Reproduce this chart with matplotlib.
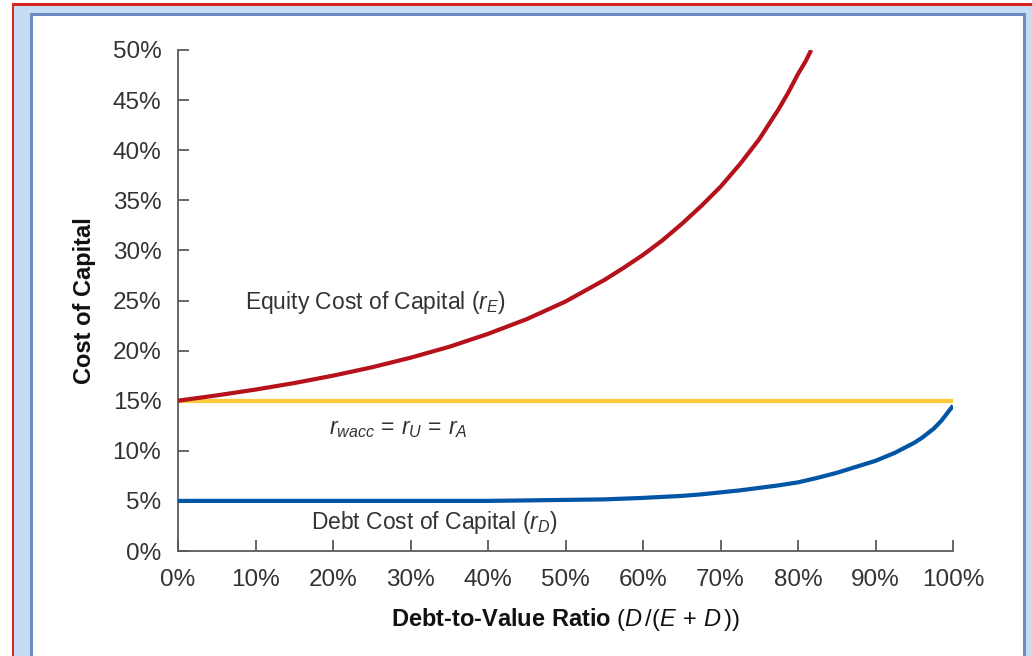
import numpy as np
import matplotlib
matplotlib.use("Agg")
import matplotlib.pyplot as plt
from matplotlib.patches import Rectangle

plt.rcParams['font.family'] = ['Liberation Sans', 'DejaVu Sans']
plt.rcParams['mathtext.fontset'] = 'custom'
plt.rcParams['mathtext.rm'] = 'Liberation Sans'
plt.rcParams['mathtext.it'] = 'Liberation Sans:italic'
plt.rcParams['mathtext.bf'] = 'Liberation Sans:bold'

# debt-to-value ratio (%) and costs of capital (%)
dv_debt = [0, 5, 10, 15, 20, 25, 30, 35, 40, 45, 50, 55, 60, 62.5, 65, 67.5, 70, 72.5, 75,
           77.5, 80, 82.5, 85, 87.5, 90, 92.5, 95, 96, 97.5, 98.5, 99.3, 100]
r_debt = [5.0, 5.0, 5.0, 5.0, 5.0, 5.0, 5.0, 5.0, 5.0, 5.05, 5.1, 5.15, 5.3, 5.4, 5.5, 5.65,
          5.85, 6.05, 6.3, 6.55, 6.85, 7.3, 7.8, 8.4, 9.0, 9.8, 10.8, 11.3, 12.2, 13.0, 13.8, 14.5]

dv_equity = [0, 5, 10, 15, 20, 25, 30, 35, 40, 45, 50, 55, 57.5, 60, 62.5, 65, 67.5, 70,
             72.5, 75, 77.5, 78.75, 80, 81, 81.7]
r_equity = [15.0, 15.53, 16.11, 16.76, 17.5, 18.33, 19.29, 20.38, 21.67, 23.14, 24.9,
            27.04, 28.26, 29.55, 31.0, 32.64, 34.42, 36.35, 38.6, 41.1, 44.1, 45.76,
            47.6, 48.9, 50.0]

dv_wacc = [0, 100]
r_wacc = [15, 15]

xticks = list(range(0, 101, 10))
yticks = list(range(0, 51, 5))

W, H = 1032, 656
fig = plt.figure(figsize=(W / 100, H / 100), dpi=100)
fig.patch.set_facecolor('white')

def box(x0, y0, x1, y1, color):
    # pixel box, y measured from top
    fig.patches.append(Rectangle((x0 / W, 1 - y1 / H), (x1 - x0) / W, (y1 - y0) / H,
                                 transform=fig.transFigure, facecolor=color,
                                 edgecolor='none', zorder=-10))

box(12, 4, W, H, '#c6dcf4')
box(30, 13, 1025.5, H, '#6b8cc2')
box(32.5, 15.5, 1023, H, 'white')
box(12, 3.5, W, 5.5, '#d7261b')
box(11.5, 3.5, 13.5, H, '#d7261b')

ax = fig.add_axes([178 / W, 1 - 551 / H, (953 - 178) / W, (551 - 50) / H])
ax.set_facecolor('none')

ax.plot(dv_wacc, r_wacc, color='#fdc93a', lw=3, solid_capstyle='butt', zorder=2)
ax.plot(dv_equity, r_equity, color='#b5121b', lw=3, solid_capstyle='butt', zorder=3)
ax.plot(dv_debt, r_debt, color='#0055a4', lw=3, solid_capstyle='butt', zorder=3)

ax.set_xlim(0, 100)
ax.set_ylim(0, 50)
ax.set_xticks(xticks)
ax.set_xticklabels([f'{t}%' for t in xticks])
ax.set_yticks(yticks)
ax.set_yticklabels([f'{t}%' for t in yticks])
for s in ['top', 'right']:
    ax.spines[s].set_visible(False)
for s in ['left', 'bottom']:
    ax.spines[s].set_color('#5a5a5a')
    ax.spines[s].set_linewidth(1.3)
ax.tick_params(axis='both', direction='in', color='#5a5a5a', width=1.3,
               labelsize=17.5, labelcolor='#333333')
ax.tick_params(axis='y', length=8, pad=12)
ax.tick_params(axis='x', length=8, pad=13)

ax.set_ylabel('Cost of Capital', fontsize=17, fontweight='bold', color='#111111')
ax.yaxis.set_label_coords(-0.106, 0.5)
ax.set_xlabel('Debt-to-Value Ratio ' + r'$(D\,/(E\,+\,D\,))$', fontsize=17,
              fontweight='bold', color='#111111')
ax.xaxis.set_label_coords(0.5, -0.11)

ax.text(8.6, 24.8, r'Equity Cost of Capital ($r_E$)', fontsize=16.5, color='#333333',
        va='center', ha='left')
ax.text(19.5, 12.2, r'$r_{wacc}\,=\,r_U\,=\,r_A$', fontsize=16.5, color='#333333',
        va='center', ha='left')
ax.text(17.2, 2.8, r'Debt Cost of Capital ($r_D$)', fontsize=16.5, color='#333333',
        va='center', ha='left')

fig.savefig('out.png', dpi=100)
